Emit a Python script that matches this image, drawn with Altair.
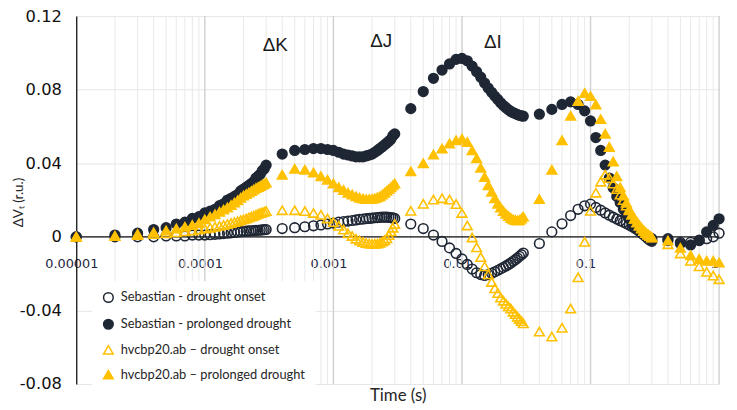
import json
import altair as alt
import pandas as pd

NAVY = "#1f2735"
GOLD = "#FFC000"

SERIES = [
    "Sebastian - drought onset",
    "Sebastian - prolonged drought",
    "hvcbp20.ab – drought onset",
    "hvcbp20.ab – prolonged drought",
]
SHAPES = ["circle", "circle", "triangle-up", "triangle-up"]
STROKES = [NAVY, NAVY, GOLD, GOLD]
FILLS = ["transparent", NAVY, "transparent", GOLD]
SIZES = [95, 95, 100, 120]

# time points (microseconds)
TIME_US = [
    10, 20, 30, 40, 50, 60, 70, 80, 90, 100, 110, 120, 130, 140, 150,
    160, 170, 180, 190, 200, 210, 220, 230, 240, 250, 260, 270, 280, 290, 300,
    400, 500, 600, 700, 800, 900, 1000, 1100, 1200, 1300, 1400, 1500, 1600, 1700,
    1800, 1900, 2000, 2100, 2200, 2300, 2400, 2500, 2600, 2700, 2800, 2900, 3000,
    4000, 5000, 6000, 7000, 8000, 9000, 10000, 11000, 12000, 13000, 14000, 15000,
    16000, 17000, 18000, 19000, 20000, 21000, 22000, 23000, 24000, 25000, 26000,
    27000, 28000, 29000, 30000,
    40000, 50000, 60000, 70000, 80000, 90000, 100000, 110000, 120000, 130000,
    140000, 150000, 160000, 170000, 180000, 190000, 200000, 210000, 220000,
    230000, 240000, 250000, 260000, 270000, 280000, 290000, 300000,
    400000, 500000, 600000, 700000, 800000, 900000, 1000000,
]

SEB_ONSET = [
    0.000, 0.000, 0.000, 0.000, 0.0005, 0.0005, 0.0005, 0.001, 0.001, 0.001,
    0.0012, 0.0014, 0.0016, 0.0018, 0.002, 0.0022, 0.0024, 0.0026, 0.0028, 0.003,
    0.0031, 0.0032, 0.0033, 0.0034, 0.0035, 0.0036, 0.0037, 0.0038, 0.0039, 0.004,
    0.0045, 0.005, 0.0055, 0.006, 0.0065, 0.007, 0.0075, 0.008, 0.0083, 0.0086,
    0.0089, 0.0092, 0.0095, 0.0097, 0.0099, 0.010, 0.0102, 0.0104, 0.0105, 0.0106,
    0.0107, 0.0107, 0.0107, 0.0106, 0.0105, 0.0103, 0.010,
    0.007, 0.0045, 0.001, -0.0025, -0.006, -0.009, -0.012, -0.015, -0.0175, -0.0195,
    -0.0205, -0.021, -0.0205, -0.0198, -0.019, -0.0182, -0.0174, -0.0166, -0.0158,
    -0.015, -0.0142, -0.0133, -0.0124, -0.0115, -0.0106, -0.0097, -0.0088,
    -0.0036, 0.0027, 0.0071, 0.0116, 0.015, 0.0169, 0.0178, 0.016, 0.0145, 0.013,
    0.0118, 0.0107, 0.0097, 0.0088, 0.008, 0.0072, 0.0064, 0.0056, 0.0048, 0.004,
    0.0032, 0.0024, 0.0016, 0.0008, 0.000, -0.0006, -0.001,
    -0.002, -0.003, -0.003, -0.002, -0.001, 0.000, 0.002,
]

SEB_PROLONGED = [
    0.000, 0.001, 0.002, 0.004, 0.005, 0.007, 0.008, 0.010, 0.011, 0.013,
    0.014, 0.015, 0.017, 0.018, 0.020, 0.021, 0.022, 0.023, 0.025, 0.026,
    0.027, 0.028, 0.029, 0.030, 0.032, 0.033, 0.034, 0.036, 0.037, 0.039,
    0.045, 0.047, 0.0475, 0.048, 0.048, 0.0475, 0.047, 0.046, 0.045, 0.0445,
    0.044, 0.0435, 0.0435, 0.0435, 0.044, 0.0445, 0.045, 0.046, 0.047, 0.048,
    0.049, 0.050, 0.051, 0.052, 0.053, 0.055, 0.056,
    0.0697, 0.079, 0.0862, 0.0907, 0.094, 0.0965, 0.097, 0.0957, 0.0928, 0.0898,
    0.0868, 0.0836, 0.0809, 0.0786, 0.0765, 0.0747, 0.0729, 0.0714, 0.0702, 0.0691,
    0.0682, 0.0675, 0.067, 0.0665, 0.0661, 0.0658, 0.0656,
    0.0667, 0.0693, 0.072, 0.0734, 0.072, 0.0685, 0.063, 0.054, 0.047, 0.039,
    0.032, 0.0267, 0.022, 0.0187, 0.015, 0.0122, 0.0098, 0.0075, 0.0057, 0.0042,
    0.003, 0.002, 0.001, 0.000, -0.001, -0.0018, -0.0024,
    -0.001, -0.0036, -0.0044, -0.0018, 0.0027, 0.0062, 0.0098,
]

HV_ONSET = [
    0.000, 0.0005, 0.001, 0.0015, 0.002, 0.0025, 0.003, 0.0035, 0.004, 0.0045,
    0.005, 0.0055, 0.006, 0.0065, 0.007, 0.0075, 0.008, 0.0085, 0.009, 0.0095,
    0.010, 0.0105, 0.011, 0.0115, 0.012, 0.0125, 0.013, 0.0133, 0.0136, 0.014,
    0.0145, 0.0145, 0.014, 0.013, 0.012, 0.010, 0.008, 0.006, 0.004, 0.002,
    0.0005, -0.001, -0.002, -0.0028, -0.0033, -0.0036, -0.0038, -0.0038, -0.0036,
    -0.0032, -0.0026, -0.0018, -0.0008, 0.001, 0.003, 0.005, 0.007,
    0.0142, 0.018, 0.0203, 0.021, 0.0203, 0.0178, 0.013, 0.0062, -0.0003, -0.0057,
    -0.011, -0.016, -0.0204, -0.0245, -0.028, -0.0306, -0.033, -0.0347, -0.0364,
    -0.0378, -0.039, -0.0407, -0.042, -0.0434, -0.0446, -0.0458, -0.047,
    -0.0515, -0.0542, -0.0494, -0.039, -0.022, -0.0027, 0.0142, 0.024, 0.030, 0.0338,
    0.032, 0.029, 0.026, 0.023, 0.020, 0.017, 0.0145, 0.0122, 0.010, 0.008,
    0.0063, 0.0048, 0.0035, 0.0024, 0.0014, 0.0005, -0.0003,
    -0.004, -0.009, -0.013, -0.016, -0.019, -0.021, -0.023,
]

HV_PROLONGED = [
    0.000, 0.0005, 0.0015, 0.0025, 0.0035, 0.0045, 0.0055, 0.0065, 0.0075, 0.0095,
    0.011, 0.0123, 0.0136, 0.0148, 0.016, 0.0173, 0.0186, 0.0199, 0.0212, 0.0225,
    0.0233, 0.0241, 0.0249, 0.0257, 0.0265, 0.0271, 0.0277, 0.0283, 0.0289, 0.0295,
    0.0338, 0.037, 0.0365, 0.035, 0.033, 0.031, 0.029, 0.027, 0.0255, 0.024,
    0.023, 0.022, 0.0213, 0.0208, 0.0205, 0.0205, 0.0207, 0.021, 0.0215, 0.022,
    0.023, 0.024, 0.025, 0.026, 0.027, 0.028, 0.029,
    0.0356, 0.040, 0.0448, 0.048, 0.0507, 0.0525, 0.0533, 0.0516, 0.047, 0.0427,
    0.0375, 0.0325, 0.028, 0.0245, 0.021, 0.018, 0.016, 0.014, 0.0125, 0.0113,
    0.0103, 0.0096, 0.0091, 0.0089, 0.0092, 0.010, 0.011,
    0.0205, 0.0365, 0.0525, 0.0658, 0.0738, 0.0782, 0.0765, 0.072, 0.064, 0.056,
    0.0489, 0.041, 0.033, 0.027, 0.0225, 0.0185, 0.015, 0.0122, 0.0098, 0.0078,
    0.006, 0.0045, 0.0032, 0.0021, 0.0012, 0.0005, -0.0002,
    -0.002, -0.006, -0.010, -0.012, -0.013, -0.013, -0.014,
]

X_TICKS = [0.00001, 0.0001, 0.001, 0.01, 0.1, 1]
X_LABELS = ["0.00001", "0.0001", "0.001", "0.01", "0.1", "1"]
Y_TICKS = [-0.08, -0.04, 0, 0.04, 0.08, 0.12]
Y_LABELS = ["-0.08", "-0.04", "0", "0.04", "0.08", "0.12"]

MINOR_GRID = [m * 10.0 ** e for e in range(-5, 0) for m in range(2, 10)]
MAJOR_GRID = [0.0001, 0.001, 0.01, 0.1, 1]

ANN_T = [0.000353, 0.00235, 0.0174]
ANN_V = [0.1044, 0.1066, 0.106]
ANN_TEXT = ["ΔK", "ΔJ", "ΔI"]

W, H = 650, 372

rows = []
for name, vals in zip(SERIES, [SEB_ONSET, SEB_PROLONGED, HV_ONSET, HV_PROLONGED]):
    for tu, v in zip(TIME_US, vals):
        rows.append({"series": name, "t": tu / 1e6, "v": v})
df = pd.DataFrame(rows)

xs = alt.Scale(type="log", domain=[0.00001, 1], nice=False)
ys = alt.Scale(domain=[-0.08, 0.12], nice=False, zero=False)

x_label_expr = f"{json.dumps(X_LABELS)}[indexof({json.dumps(X_TICKS)}, datum.value)]"
y_label_expr = f"{json.dumps(Y_LABELS)}[indexof({json.dumps(Y_TICKS)}, datum.value)]"

X_AXIS = alt.Axis(
    values=X_TICKS,
    labelExpr=x_label_expr,
    grid=False,
    domain=False,
    ticks=False,
    tickSize=0,
    labelFlush=False,
    labelFont="DejaVu Sans",
    labelFontSize=13,
    labelColor="#1c2541",
    labelPadding=21,
    labelOffset=-5,
    offset=-148.8,
    title="Time (s)",
    titleFont="Lato",
    titleFontSize=17,
    titleFontWeight="normal",
    titleColor="#262626",
    titleY=160,
    titleBaseline="middle",
)

Y_AXIS = alt.Axis(
    values=Y_TICKS,
    labelExpr=y_label_expr,
    grid=True,
    gridColor="#e6e6e6",
    gridWidth=1,
    domain=True,
    domainColor="#111111",
    domainWidth=1.3,
    ticks=False,
    tickSize=0,
    labelFlush=False,
    labelFont="DejaVu Sans",
    labelFontSize=16.5,
    labelColor="#111111",
    labelPadding=15,
    title="ΔVₜ (r.u.)",
    titleFont="Lato",
    titleFontSize=13.5,
    titleFontWeight="normal",
    titleColor="#262626",
    titleX=-58,
    titleY=188,
    titleBaseline="middle",
)

minor = alt.Chart(pd.DataFrame({"t": MINOR_GRID})).mark_rule(
    color="#e9e9e9", strokeWidth=1
).encode(x=alt.X("t:Q", scale=xs, axis=X_AXIS))

major = alt.Chart(pd.DataFrame({"t": MAJOR_GRID})).mark_rule(
    color="#d2d2d2", strokeWidth=1.5
).encode(x=alt.X("t:Q", scale=xs, axis=X_AXIS))

zero = alt.Chart(pd.DataFrame({"v": [0]})).mark_rule(
    color="#111111", strokeWidth=1.3
).encode(y=alt.Y("v:Q", scale=ys, axis=Y_AXIS))

LEG = alt.Legend(
    title=None, orient="none", legendX=16, legendY=268, direction="vertical"
)

points = alt.Chart(df).mark_point(filled=True, opacity=1, strokeWidth=1.6).encode(
    x=alt.X("t:Q", scale=xs, axis=X_AXIS),
    y=alt.Y("v:Q", scale=ys, axis=Y_AXIS),
    shape=alt.Shape("series:N", scale=alt.Scale(domain=SERIES, range=SHAPES), legend=LEG),
    stroke=alt.Stroke("series:N", scale=alt.Scale(domain=SERIES, range=STROKES), legend=LEG),
    fill=alt.Fill("series:N", scale=alt.Scale(domain=SERIES, range=FILLS), legend=LEG),
    size=alt.Size("series:N", scale=alt.Scale(domain=SERIES, range=SIZES), legend=LEG),
)

ann = alt.Chart(pd.DataFrame({"t": ANN_T, "v": ANN_V, "label": ANN_TEXT})).mark_text(
    font="Liberation Sans", fontSize=19, color="#1a1a1a"
).encode(
    x=alt.X("t:Q", scale=xs, axis=X_AXIS),
    y=alt.Y("v:Q", scale=ys, axis=Y_AXIS),
    text="label:N",
)

chart = (
    alt.layer(minor, major, zero, points, ann)
    .properties(
        width=W,
        height=H,
        autosize=alt.AutoSizeParams(type="none"),
        padding={"left": 69, "top": 6, "right": 10, "bottom": 20},
        background="white",
    )
    .configure_view(strokeWidth=0)
    .configure_legend(
        fillColor="white",
        padding=10,
        rowPadding=10,
        labelFont="Lato",
        labelFontSize=13,
        labelColor="#262626",
        labelOffset=6,
        symbolStrokeWidth=1.5,
        labelLimit=400,
    )
)

chart.save("out.html", embed_options={"renderer": "svg", "actions": False})
